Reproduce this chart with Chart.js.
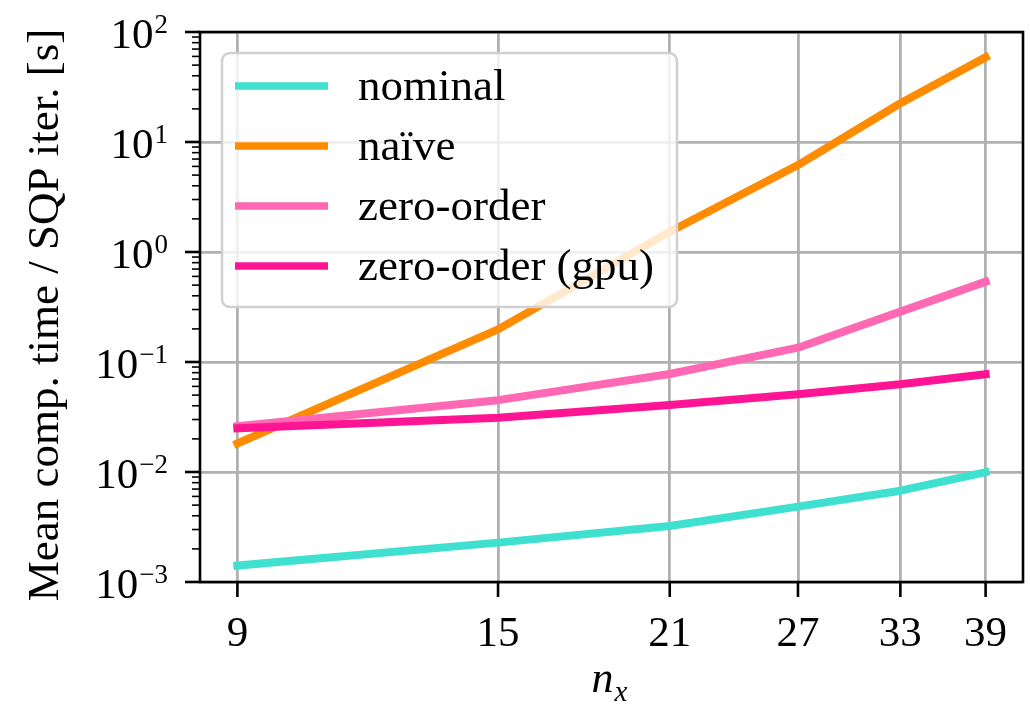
<!DOCTYPE html>
<html>
<head>
<meta charset="utf-8">
<script src="https://cdn.jsdelivr.net/npm/chart.js@4.4.1/dist/chart.umd.min.js"></script>
<style>
  html, body { margin: 0; padding: 0; background: #fff; }
  #wrap { width: 1030px; height: 705px; }
</style>
</head>
<body>
<div id="wrap"><canvas id="chart" width="1030" height="705"></canvas></div>
<script>
/* -------- DATA -------- */
const nx = [9, 15, 21, 27, 33, 39];
const nominal = [0.00141, 0.00228, 0.00323, 0.00484, 0.00676, 0.00994];
const naive = [0.0182, 0.198, 1.53, 6.17, 22.5, 58.9];
const zeroOrder = [0.026, 0.045, 0.0778, 0.135, 0.287, 0.537];
const zeroOrderGpu = [0.0250, 0.0312, 0.0406, 0.0509, 0.0627, 0.0773];

const seriesNames = ["nominal", "naïve", "zero-order", "zero-order (gpu)"];
const seriesColors = ["#40e0d0", "#ff8c00", "#ff69b4", "#ff1493"];

const yDecades = [1e-3, 1e-2, 1e-1, 1, 10, 100];
const yExponents = ["\u22123", "\u22122", "\u22121", "0", "1", "2"];

const FONT = '"Liberation Serif", "DejaVu Serif", serif';

function pts(ys) {
    return nx.map((x, i) => ({ x: x, y: ys[i] }));
}

/* -------- MATPLOTLIB-LIKE AXES, TICKS, LEGEND -------- */
const mplAxes = {
    id: "mplAxes",
    afterDatasetsDraw(chart) {
        const ctx = chart.ctx;
        const a = chart.chartArea;
        const xs = chart.scales.x;
        const ys = chart.scales.y;

        ctx.save();
        ctx.strokeStyle = "#000";
        ctx.fillStyle = "#000";

        // minor y ticks
        ctx.lineWidth = 1.6;
        for (let d = 0; d < yDecades.length - 1; d++) {
            for (let k = 2; k < 10; k++) {
                const py = ys.getPixelForValue(yDecades[d] * k);
                ctx.beginPath();
                ctx.moveTo(a.left - 8, py);
                ctx.lineTo(a.left, py);
                ctx.stroke();
            }
        }

        // major y ticks + labels
        ctx.lineWidth = 2.6;
        yDecades.forEach((v, i) => {
            const py = ys.getPixelForValue(v);
            ctx.beginPath();
            ctx.moveTo(a.left - 15, py);
            ctx.lineTo(a.left, py);
            ctx.stroke();

            ctx.textAlign = "right";
            ctx.textBaseline = "alphabetic";
            ctx.font = "27px " + FONT;
            const ex = yExponents[i];
            const exW = ctx.measureText(ex).width;
            const right = a.left - 32;
            ctx.fillText(ex, right, py + 1);
            ctx.font = "43px " + FONT;
            ctx.fillText("10", right - exW - 1, py + 16);
        });

        // x ticks + labels
        nx.forEach(v => {
            const px = xs.getPixelForValue(v);
            ctx.lineWidth = 2.6;
            ctx.beginPath();
            ctx.moveTo(px, a.bottom);
            ctx.lineTo(px, a.bottom + 15);
            ctx.stroke();
            ctx.font = "43px " + FONT;
            ctx.textAlign = "center";
            ctx.textBaseline = "alphabetic";
            ctx.fillText(String(v), px, 646);
        });

        // frame
        ctx.lineWidth = 2.6;
        ctx.strokeRect(a.left, a.top, a.right - a.left, a.bottom - a.top);

        // x title: n_x
        const cx = (a.left + a.right) / 2;
        ctx.textAlign = "left";
        ctx.font = "italic 44px " + FONT;
        const nW = ctx.measureText("n").width;
        ctx.fillText("n", cx - nW + 2, 692);
        ctx.font = "italic 29px " + FONT;
        ctx.fillText("x", cx + 3, 701);

        // y title
        ctx.save();
        ctx.translate(46, (a.top + a.bottom) / 2 + 8);
        ctx.rotate(-Math.PI / 2);
        ctx.textAlign = "center";
        ctx.textBaseline = "middle";
        ctx.font = "45px " + FONT;
        ctx.fillText("Mean comp. time / SQP iter. [s]", 0, 0);
        ctx.restore();

        // legend
        const lx = 222, ly = 53, lw = 455, lh = 254;
        ctx.beginPath();
        ctx.roundRect(lx, ly, lw, lh, 8);
        ctx.fillStyle = "rgba(255,255,255,0.8)";
        ctx.fill();
        ctx.lineWidth = 2.5;
        ctx.strokeStyle = "#d0d0d0";
        ctx.stroke();

        const rowY = [86, 146, 206, 266];
        chart.data.datasets.forEach((ds, i) => {
            const yy = rowY[i];
            ctx.strokeStyle = ds.borderColor;
            ctx.lineWidth = 7.5;
            ctx.lineCap = "butt";
            ctx.beginPath();
            ctx.moveTo(235, yy);
            ctx.lineTo(328, yy);
            ctx.stroke();
            ctx.fillStyle = "#000";
            ctx.font = "45px " + FONT;
            ctx.textAlign = "left";
            ctx.textBaseline = "alphabetic";
            ctx.fillText(ds.label, 358, yy + 14);
        });

        ctx.restore();
    }
};

/* -------- CHART -------- */
const allSeries = [nominal, naive, zeroOrder, zeroOrderGpu];
const datasets = allSeries.map((s, i) => ({
    label: seriesNames[i],
    data: pts(s),
    borderColor: seriesColors[i],
    backgroundColor: seriesColors[i],
    borderWidth: 8,
    pointRadius: 0,
    tension: 0,
    fill: false,
    borderCapStyle: "square",
    borderJoinStyle: "round",
    order: allSeries.length - i   // later series drawn on top, like matplotlib
}));

const gridStyle = {
    color: "#b0b0b0",
    lineWidth: 2.8,
    drawTicks: false
};

new Chart(document.getElementById("chart"), {
    type: "line",
    data: { datasets },
    options: {
        responsive: false,
        animation: false,
        layout: { padding: { left: 200, top: 32, right: 7, bottom: 123 } },
        plugins: {
            legend: { display: false },
            tooltip: { enabled: false }
        },
        scales: {
            x: {
                type: "logarithmic",
                min: 9 / Math.exp(0.0733),
                max: 39 * Math.exp(0.0733),
                ticks: { display: false },
                grid: gridStyle,
                border: { display: false },
                afterBuildTicks: s => { s.ticks = nx.map(v => ({ value: v })); }
            },
            y: {
                type: "logarithmic",
                min: 1e-3,
                max: 1e2,
                ticks: { display: false },
                grid: gridStyle,
                border: { display: false },
                afterBuildTicks: s => { s.ticks = yDecades.map(v => ({ value: v })); }
            }
        }
    },
    plugins: [mplAxes]
});
</script>
</body>
</html>
